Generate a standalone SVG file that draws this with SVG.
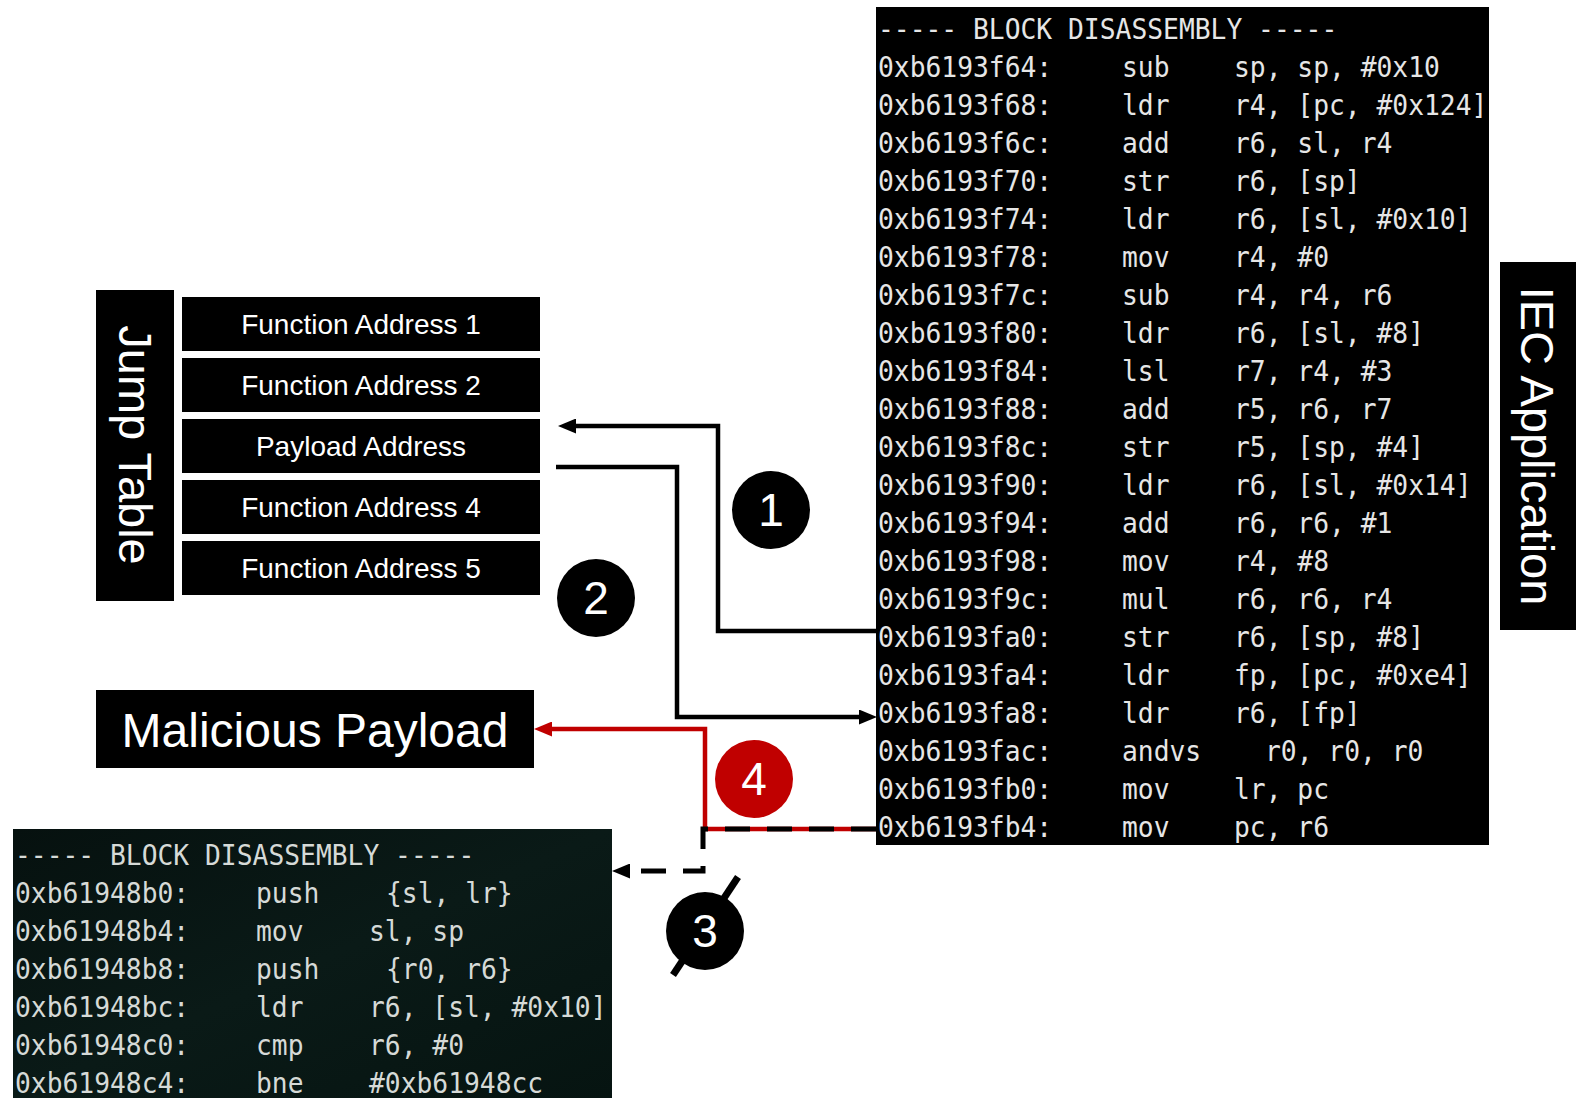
<svg xmlns="http://www.w3.org/2000/svg" width="1576" height="1098" viewBox="0 0 1576 1098">
  <style>
    .box { fill: #000; }
    .lbl { font-family: "Liberation Sans", Arial, sans-serif; fill: #fff; }
    .fa { font-size: 28px; text-anchor: middle; }
    .vert { font-size: 47px; text-anchor: middle; }
    .num { font-size: 46px; text-anchor: middle; }
    .asm { font-family: "DejaVu Sans Mono", "Liberation Mono", monospace; font-size: 28px; fill: #e6e6e6; }
    .asm2 { fill: #d6dad7; }
    .wire { fill: none; stroke: #000; stroke-width: 4.5; }
    .red { fill: none; stroke: #c00000; stroke-width: 4.5; }
    .dash { fill: none; stroke: #000; stroke-width: 5; stroke-dasharray: 25 17; }
  </style>
  <defs>
    <marker id="ah" markerUnits="userSpaceOnUse" markerWidth="18" markerHeight="15" refX="2" refY="7.5" orient="auto">
      <path d="M0,0 L18,7.5 L0,15 z" fill="#000"/>
    </marker>
    <marker id="ahRed" markerUnits="userSpaceOnUse" markerWidth="18" markerHeight="15" refX="2" refY="7.5" orient="auto">
      <path d="M0,0 L18,7.5 L0,15 z" fill="#c00000"/>
    </marker>
    <linearGradient id="termBg" x1="0" y1="0" x2="1" y2="1">
      <stop offset="0" stop-color="#06110f"/>
      <stop offset="0.5" stop-color="#0a1a17"/>
      <stop offset="1" stop-color="#061411"/>
    </linearGradient>
  </defs>

  <!-- Jump table -->
  <g id="jump-table-label">
    <rect class="box" x="96" y="290" width="78" height="311"/>
    <text class="lbl vert" transform="translate(119,445) rotate(90)">Jump Table</text>
  </g>
  <g id="fa1">
    <rect class="box" x="182" y="297" width="358" height="54"/>
    <text class="lbl fa" x="361" y="334">Function Address 1</text>
  </g>
  <g id="fa2">
    <rect class="box" x="182" y="358" width="358" height="54"/>
    <text class="lbl fa" x="361" y="395">Function Address 2</text>
  </g>
  <g id="payload-addr">
    <rect class="box" x="182" y="419" width="358" height="54"/>
    <text class="lbl fa" x="361" y="456">Payload Address</text>
  </g>
  <g id="fa4">
    <rect class="box" x="182" y="480" width="358" height="54"/>
    <text class="lbl fa" x="361" y="517">Function Address 4</text>
  </g>
  <g id="fa5">
    <rect class="box" x="182" y="541" width="358" height="54"/>
    <text class="lbl fa" x="361" y="578">Function Address 5</text>
  </g>

  <!-- Malicious payload -->
  <g id="malicious-payload">
    <rect class="box" x="96" y="690" width="438" height="78"/>
    <text class="lbl" x="315" y="747" font-size="48" text-anchor="middle">Malicious Payload</text>
  </g>

  <!-- IEC application label -->
  <g id="iec-app">
    <rect class="box" x="1500" y="262" width="76" height="368"/>
    <text class="lbl vert" transform="translate(1521,446) rotate(90)">IEC Application</text>
  </g>

  <!-- Main disassembly block (monospace, slightly condensed) -->
  <g id="main-block">
    <rect x="876" y="7" width="613" height="838" fill="#000"/>
    <g class="asm" transform="translate(878,0) scale(0.94,1)">
      <text x="0" y="39">----- BLOCK DISASSEMBLY -----</text>
      <text y="77"><tspan x="0">0xb6193f64:</tspan><tspan x="259.6">sub</tspan><tspan x="378.7">sp, sp, #0x10</tspan></text>
      <text y="115"><tspan x="0">0xb6193f68:</tspan><tspan x="259.6">ldr</tspan><tspan x="378.7">r4, [pc, #0x124]</tspan></text>
      <text y="153"><tspan x="0">0xb6193f6c:</tspan><tspan x="259.6">add</tspan><tspan x="378.7">r6, sl, r4</tspan></text>
      <text y="191"><tspan x="0">0xb6193f70:</tspan><tspan x="259.6">str</tspan><tspan x="378.7">r6, [sp]</tspan></text>
      <text y="229"><tspan x="0">0xb6193f74:</tspan><tspan x="259.6">ldr</tspan><tspan x="378.7">r6, [sl, #0x10]</tspan></text>
      <text y="267"><tspan x="0">0xb6193f78:</tspan><tspan x="259.6">mov</tspan><tspan x="378.7">r4, #0</tspan></text>
      <text y="305"><tspan x="0">0xb6193f7c:</tspan><tspan x="259.6">sub</tspan><tspan x="378.7">r4, r4, r6</tspan></text>
      <text y="343"><tspan x="0">0xb6193f80:</tspan><tspan x="259.6">ldr</tspan><tspan x="378.7">r6, [sl, #8]</tspan></text>
      <text y="381"><tspan x="0">0xb6193f84:</tspan><tspan x="259.6">lsl</tspan><tspan x="378.7">r7, r4, #3</tspan></text>
      <text y="419"><tspan x="0">0xb6193f88:</tspan><tspan x="259.6">add</tspan><tspan x="378.7">r5, r6, r7</tspan></text>
      <text y="457"><tspan x="0">0xb6193f8c:</tspan><tspan x="259.6">str</tspan><tspan x="378.7">r5, [sp, #4]</tspan></text>
      <text y="495"><tspan x="0">0xb6193f90:</tspan><tspan x="259.6">ldr</tspan><tspan x="378.7">r6, [sl, #0x14]</tspan></text>
      <text y="533"><tspan x="0">0xb6193f94:</tspan><tspan x="259.6">add</tspan><tspan x="378.7">r6, r6, #1</tspan></text>
      <text y="571"><tspan x="0">0xb6193f98:</tspan><tspan x="259.6">mov</tspan><tspan x="378.7">r4, #8</tspan></text>
      <text y="609"><tspan x="0">0xb6193f9c:</tspan><tspan x="259.6">mul</tspan><tspan x="378.7">r6, r6, r4</tspan></text>
      <text y="647"><tspan x="0">0xb6193fa0:</tspan><tspan x="259.6">str</tspan><tspan x="378.7">r6, [sp, #8]</tspan></text>
      <text y="685"><tspan x="0">0xb6193fa4:</tspan><tspan x="259.6">ldr</tspan><tspan x="378.7">fp, [pc, #0xe4]</tspan></text>
      <text y="723"><tspan x="0">0xb6193fa8:</tspan><tspan x="259.6">ldr</tspan><tspan x="378.7">r6, [fp]</tspan></text>
      <text y="761"><tspan x="0">0xb6193fac:</tspan><tspan x="259.6">andvs</tspan><tspan x="411.7">r0, r0, r0</tspan></text>
      <text y="799"><tspan x="0">0xb6193fb0:</tspan><tspan x="259.6">mov</tspan><tspan x="378.7">lr, pc</tspan></text>
      <text y="837"><tspan x="0">0xb6193fb4:</tspan><tspan x="259.6">mov</tspan><tspan x="378.7">pc, r6</tspan></text>
    </g>
  </g>

  <!-- Payload disassembly block -->
  <g id="payload-block">
    <rect x="13" y="829" width="599" height="269" fill="url(#termBg)"/>
    <g class="asm asm2" transform="translate(15,0) scale(0.94,1)">
      <text x="0" y="865">----- BLOCK DISASSEMBLY -----</text>
      <text y="903"><tspan x="0">0xb61948b0:</tspan><tspan x="256.4">push</tspan><tspan x="394.7">{sl, lr}</tspan></text>
      <text y="941"><tspan x="0">0xb61948b4:</tspan><tspan x="256.4">mov</tspan><tspan x="376.6">sl, sp</tspan></text>
      <text y="979"><tspan x="0">0xb61948b8:</tspan><tspan x="256.4">push</tspan><tspan x="394.7">{r0, r6}</tspan></text>
      <text y="1017"><tspan x="0">0xb61948bc:</tspan><tspan x="256.4">ldr</tspan><tspan x="376.6">r6, [sl, #0x10]</tspan></text>
      <text y="1055"><tspan x="0">0xb61948c0:</tspan><tspan x="256.4">cmp</tspan><tspan x="376.6">r6, #0</tspan></text>
      <text y="1093"><tspan x="0">0xb61948c4:</tspan><tspan x="256.4">bne</tspan><tspan x="376.6">#0xb61948cc</tspan></text>
    </g>
  </g>

  <!-- Connectors -->
  <g id="connectors">
    <path class="wire" d="M876,631 H718 V426 H574" marker-end="url(#ah)"/>
    <path class="wire" d="M556,467 H677 V717 H861" marker-end="url(#ah)"/>
    <path class="red" d="M876,829 H705 V729 H550" marker-end="url(#ahRed)"/>
    <path class="dash" d="M876,829 H703 V871 H628" marker-end="url(#ah)"/>
  </g>

  <!-- Step markers -->
  <g id="step1">
    <circle cx="771" cy="510" r="39" fill="#000"/>
    <text class="lbl num" x="771" y="526">1</text>
  </g>
  <g id="step2">
    <circle cx="596" cy="598" r="39" fill="#000"/>
    <text class="lbl num" x="596" y="614">2</text>
  </g>
  <g id="step4">
    <circle cx="754" cy="779" r="39" fill="#c00000"/>
    <text class="lbl num" x="754" y="795">4</text>
  </g>
  <g id="step3">
    <line x1="738" y1="877" x2="673" y2="975" stroke="#000" stroke-width="7"/>
    <circle cx="705" cy="931" r="39" fill="#000"/>
    <text class="lbl num" x="705" y="947">3</text>
  </g>
</svg>
